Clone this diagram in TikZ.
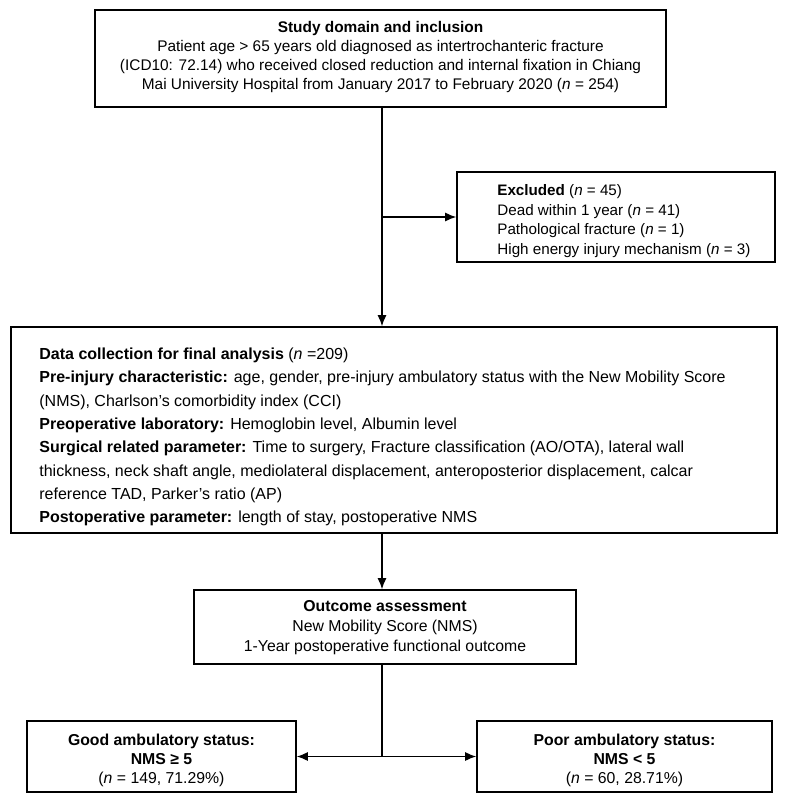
\documentclass[tikz,border=0pt]{standalone}
\usepackage{fontspec}
\setmainfont{Liberation Sans}
\usetikzlibrary{arrows.meta}
\begin{document}
\begin{tikzpicture}[x=1pt,y=-1pt,
  box/.style={draw, line width=1.6pt, inner sep=0pt, minimum width=#1},
  ctxt/.style={inner sep=0pt, align=center},
  conn/.style={line width=1.3pt},
  arr/.style={conn, -{Latex[length=11pt,width=9pt]}},
  txt/.style={inner sep=0pt, align=left, anchor=west}
]
\useasboundingbox (0,0) rectangle (791,804);
\fill[white] (0,0) rectangle (791,804);

\node[box=571, minimum height=97] (top) at (380.5,58.5) {};
\node[ctxt, font=\fontsize{15.4}{19.3}\selectfont] (topt) at ([yshift=1.5]top.center)
  {\textbf{Study domain and inclusion}\\
   Patient age > 65 years old diagnosed as intertrochanteric fracture\\
   (ICD10: 72.14) who received closed reduction and internal fixation in Chiang\\
   Mai University Hospital from January 2017 to February 2020 (\textit{n} = 254)};

\node[box=318, minimum height=90] (exc) at (616,217) {};
\node[txt, font=\fontsize{15.2}{19.5}\selectfont] (exct) at ([xshift=41,yshift=-4]exc.west)
  {\textbf{Excluded} (\textit{n} = 45)\\
   Dead within 1 year (\textit{n} = 41)\\
   Pathological fracture (\textit{n} = 1)\\
   High energy injury mechanism (\textit{n} = 3)};

\node[box=766, minimum height=206] (data) at (394,430) {};
\node[txt, font=\fontsize{16}{23.3}\selectfont] (datat) at ([xshift=29,yshift=-7]data.west)
  {\textbf{Data collection for final analysis} (\textit{n} =209)\\
   \textbf{Pre-injury characteristic:} age, gender, pre-injury ambulatory status with the New Mobility Score\\
   (NMS), Charlson’s comorbidity index (CCI)\\
   \textbf{Preoperative laboratory:} Hemoglobin level, Albumin level\\
   \textbf{Surgical related parameter:} Time to surgery, Fracture classification (AO/OTA), lateral wall\\
   thickness, neck shaft angle, mediolateral displacement, anteroposterior displacement, calcar\\
   reference TAD, Parker’s ratio (AP)\\
   \textbf{Postoperative parameter:} length of stay, postoperative NMS};

\node[box=382, minimum height=74] (out) at (385,627) {};
\node[ctxt, font=\fontsize{15.8}{20}\selectfont] (outt) at ([yshift=-1]out.center)
  {\textbf{Outcome assessment}\\
   New Mobility Score (NMS)\\
   1-Year postoperative functional outcome};

\node[box=269, minimum height=71] (good) at (161.5,756.5) {};
\node[ctxt, font=\fontsize{15.8}{19.2}\selectfont] (goodt) at ([yshift=-4]good.center)
  {\textbf{Good ambulatory status:}\\
   \textbf{NMS ≥ 5}\\
   (\textit{n} = 149, 71.29\%)};

\node[box=295, minimum height=71] (poor) at (624.5,756.5) {};
\node[ctxt, font=\fontsize{15.8}{19.2}\selectfont] (poort) at ([yshift=-4]poor.center)
  {\textbf{Poor ambulatory status:}\\
   \textbf{NMS < 5}\\
   (\textit{n} = 60, 28.71\%)};

\coordinate (spine) at (382,0);
\draw[arr] (top.south -| spine) -- (data.north -| spine);
\draw[arr] (spine |- exc.west) -- (exc.west);
\draw[arr] (data.south -| spine) -- (out.north -| spine);
\coordinate (split) at (spine |- good.east);
\draw[conn] (out.south -| spine) -- (split);
\draw[arr] (split) -- (good.east);
\draw[arr] (split) -- (poor.west);
\end{tikzpicture}
\end{document}
